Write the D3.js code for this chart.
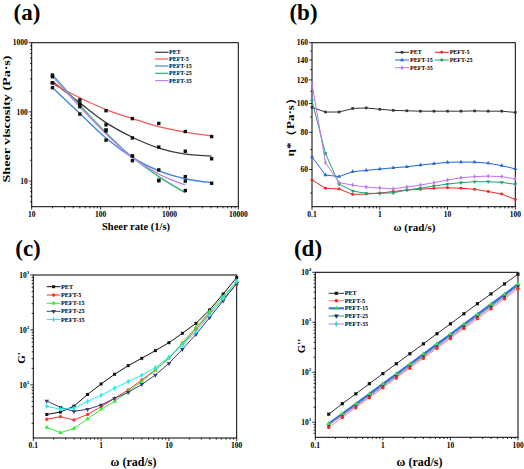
<!DOCTYPE html>
<html><head><meta charset="utf-8">
<script src="https://cdn.jsdelivr.net/npm/d3@7"></script>
<style>
body{margin:0;background:#fff}
svg{display:block}
text{font-family:"Liberation Serif","Times New Roman",serif;font-weight:bold;fill:#000}
</style>
</head><body>
<svg id="c" width="524" height="469"></svg>
<script>
const names = ["PET","PEFT-5","PEFT-15","PEFT-25","PEFT-35"];

// ---------- Panel (a): sheer viscosity vs sheer rate ----------
const shearRate = [20, 50, 120, 290, 700, 1700, 4100];
const aPET    = [264, 126, 65, 42, 31, 27, 21];
const aPEFT5  = [264, 149, 104, 80, 68, 52, 44];
const aPEFT15 = [224, 93, 39, 23, 14.5, 11.6, 9.3];
const aPEFT25 = [341, 133, 55, 19.7, 10.1, 7.3];
const aPEFT35 = [322, 119, 53, 23, 10.3, 10];
// fitted curves
const fitPET    = [275, 135, 70, 43, 30, 24.5, 23];
const fitPEFT5  = [255, 160, 108, 80, 61, 51, 45];
const fitPEFT15 = [225, 95, 42, 22, 14, 10.8, 9.5];
const fitPEFT25 = [345, 125, 50, 22, 11.6, 6.8];
const fitPEFT35 = [330, 118, 48, 22, 12.6, 8.8];
const aXTicks = [10, 100, 1000, 10000];
const aYTicks = [10, 100, 1000];

// ---------- Panel (b): complex viscosity ----------
const omegaB = [0.1, 0.158, 0.251, 0.398, 0.631, 1, 1.58, 2.51, 3.98, 6.31, 10, 15.8, 25.1, 39.8, 63.1, 100];
const bPET    = [97, 93.6, 93.6, 96.2, 96.6, 95.6, 94.8, 94.5, 94.2, 94.2, 94.2, 94.2, 94.4, 94.2, 94.2, 93.3];
const bPEFT5  = [55.3, 51.9, 51.6, 49.5, 49.6, 50.0, 50.6, 51.2, 51.5, 51.9, 52.1, 51.9, 51.5, 50.6, 49.6, 47.6];
const bPEFT15 = [66.2, 57.5, 56.8, 59.0, 59.6, 60.2, 60.8, 61.3, 62.1, 62.8, 63.4, 63.6, 63.5, 63.0, 61.8, 60.3];
const bPEFT25 = [102, 68, 53.6, 50.8, 49.9, 49.9, 50.1, 51.2, 51.9, 52.8, 53.6, 54.2, 54.6, 54.6, 54.3, 53.5];
const bPEFT35 = [116.6, 63.3, 54.2, 53.2, 52.4, 52.0, 51.7, 52.4, 53.2, 54.2, 55.3, 56.3, 56.8, 57.0, 56.8, 55.8];
const bXTicks = [0.1, 1, 10, 100];
const bYTicks = [60, 80, 100, 120, 140, 160];
const bYMinor = [50, 70, 90, 110, 130, 150];

// ---------- Panel (c): G' ----------
const omegaCD = [0.158, 0.251, 0.398, 0.631, 1, 1.58, 2.51, 3.98, 6.31, 10, 15.8, 25.1, 39.8, 63.1, 100];
const cPET    = [2.9, 3.2, 4.1, 6.7, 10.4, 15.6, 22.4, 30.5, 42, 58.6, 87, 132, 231, 451, 900];
const cPEFT5  = [2.37, 2.64, 2.3, 2.9, 4.0, 5.7, 8.1, 12.3, 18.7, 31, 55, 103, 200, 360, 680];
const cPEFT15 = [1.69, 1.35, 1.62, 2.4, 3.6, 5.0, 7.6, 11.5, 18.5, 31, 58, 112, 215, 405, 770];
const cPEFT25 = [5.1, 3.9, 3.3, 3.6, 4.3, 5.7, 7.3, 10.2, 15.1, 24.7, 44.5, 83, 167, 340, 705];
const cPEFT35 = [4.1, 3.6, 3.75, 5.0, 6.5, 8.7, 11.5, 15, 20.6, 32, 53, 93, 187, 376, 760];
const cdXTicks = [0.1, 1, 10, 100];
const cYTicks = [10, 100, 1000];

// ---------- Panel (d): G'' ----------
const dPET    = [14.5, 23.5, 37, 59, 94, 148, 235, 370, 590, 930, 1480, 2350, 3700, 5850, 9200];
const dPEFT5  = [7.9, 12.4, 19.6, 31, 49, 77, 121, 191, 302, 476, 751, 1185, 1870, 2950, 4700];
const dPEFT15 = [9.4, 14.8, 23.4, 37, 58.5, 92.5, 146, 231, 366, 578, 914, 1445, 2285, 3610, 5800];
const dPEFT25 = [8.8, 13.8, 21.8, 34.5, 54.5, 86, 136, 215, 340, 540, 850, 1345, 2130, 3380, 5400];
const dPEFT35 = [9.1, 13.6, 21, 33, 52, 82, 129, 204, 322, 510, 805, 1270, 2010, 3180, 5100];
const dYTicks = [10, 100, 1000, 10000];

// ---------- styles ----------
const colA = ["#3a3a3a", "#f25a55", "#3d86dc", "#2fb56f", "#c481ee"];
const colB = ["#333333", "#ee2626", "#2266dd", "#21a070", "#bb77ee"];
const colC = ["#111111", "#ff3333", "#33ee33", "#3c3c7a", "#22eeee"];
const lineD = ["#333333", "#ff7f7f", "#2f6fe0", "#2e9e7c", "#c07fe0"];
const markD = ["#111111", "#ff2222", "#44dd44", "#24246e", "#22dddd"];
const symTypes = [d3.symbolSquare, d3.symbolCircle, d3.symbolTriangle, d3.symbolTriangle, d3.symbolDiamond];
const symRot = [0, 0, 0, 180, 0];

const svg = d3.select("#c");

function logMinor(lo, hi) {
  const out = [];
  for (let e = Math.floor(Math.log10(lo)) - 1; e <= Math.ceil(Math.log10(hi)); e++) {
    for (let k = 2; k <= 9; k++) {
      const v = k * Math.pow(10, e);
      if (v > lo && v < hi) out.push(v);
    }
  }
  return out;
}

function drawAxes(p) {
  const g = svg.append("g");
  const [x0, x1] = p.x.range();
  const [yb, yt] = p.y.range();
  const tk = g.append("g").attr("stroke", "#000").attr("stroke-width", 0.8);
  p.xMajor.forEach(v => tk.append("line").attr("x1", p.x(v)).attr("x2", p.x(v)).attr("y1", yb).attr("y2", yb + 3));
  p.xMinor.forEach(v => tk.append("line").attr("x1", p.x(v)).attr("x2", p.x(v)).attr("y1", yb).attr("y2", yb + 1.7));
  p.yMajor.forEach(v => tk.append("line").attr("y1", p.y(v)).attr("y2", p.y(v)).attr("x1", x0).attr("x2", x0 - 3));
  p.yMinor.forEach(v => tk.append("line").attr("y1", p.y(v)).attr("y2", p.y(v)).attr("x1", x0).attr("x2", x0 - 1.7));
  g.append("rect").attr("x", x0).attr("y", yt).attr("width", x1 - x0).attr("height", yb - yt)
    .attr("fill", "none").attr("stroke", "#000").attr("stroke-width", 1);
  p.xMajor.forEach(v => g.append("text").attr("x", p.x(v)).attr("y", p.xLabY).attr("text-anchor", "middle")
    .attr("font-size", 7.5).text(String(v)));
  p.yMajor.forEach(v => {
    const t = g.append("text").attr("x", x0 - 4).attr("y", p.y(v)).attr("dy", "0.35em").attr("text-anchor", "end").attr("font-size", 7.5);
    if (p.sup) {
      t.append("tspan").text("10");
      t.append("tspan").attr("dy", -3.5).attr("font-size", 5).text(String(Math.round(Math.log10(v))));
    } else t.text(String(v));
  });
  return g;
}

function marker(g, type, rot, size, fill, cx, cy) {
  g.append("path").attr("d", d3.symbol().type(type).size(size)())
    .attr("transform", `translate(${cx},${cy}) rotate(${rot})`).attr("fill", fill);
}

function label(txt, x, y, size, rotate, len) {
  const t = svg.append("text").attr("text-anchor", "middle").attr("font-size", size)
    .attr("transform", `translate(${x},${y})` + (rotate ? " rotate(-90)" : "")).text(txt);
  if (len) t.attr("textLength", len).attr("lengthAdjust", "spacingAndGlyphs");
  return t;
}

// ================= Panel (a) =================
{
  const x = d3.scaleLog().domain([10, 10000]).range([31.7, 238.3]);
  const y = d3.scaleLog().domain([4.26, 1000]).range([206.7, 42.7]);
  drawAxes({x, y, xMajor: aXTicks, xMinor: logMinor(10, 10000), yMajor: aYTicks, yMinor: logMinor(4.26, 1000),
    xLabY: 217, sup: false});
  const fits = [fitPET, fitPEFT5, fitPEFT15, fitPEFT25, fitPEFT35];
  const pts = [aPET, aPEFT5, aPEFT15, aPEFT25, aPEFT35];
  const g = svg.append("g");
  const line = d3.line().x(d => x(d[0])).y(d => y(d[1])).curve(d3.curveMonotoneX);
  fits.forEach((f, i) => {
    g.append("path").attr("d", line(f.map((v, j) => [shearRate[j], v])))
      .attr("fill", "none").attr("stroke", colA[i]).attr("stroke-width", 1.3);
  });
  pts.forEach(s => s.forEach((v, j) => {
    g.append("rect").attr("x", x(shearRate[j]) - 1.7).attr("y", y(v) - 1.7).attr("width", 3.4).attr("height", 3.4).attr("fill", "#111");
  }));
  const lg = svg.append("g");
  const rows = [52.3, 59, 66, 73.3, 80.6];
  names.forEach((n, i) => {
    lg.append("line").attr("x1", 155).attr("x2", 168.5).attr("y1", rows[i]).attr("y2", rows[i]).attr("stroke", colA[i]).attr("stroke-width", 1.2);
    lg.append("text").attr("x", 169).attr("y", rows[i]).attr("dy", "0.35em").attr("font-size", 6).text(n);
  });
  label("(a)", 27, 19.5, 23);
  label("Sheer viscosity (Pa\u00b7s)", 9.5, 119, 10.5, true, 127);
  label("Sheer rate (1/s)", 136, 230, 10.5);
}

// ================= Panel (b) =================
{
  const x = d3.scaleLog().domain([0.1, 100]).range([312, 515.3]);
  const y = d3.scaleLog().domain([45, 160]).range([206.7, 42.7]);
  drawAxes({x, y, xMajor: bXTicks, xMinor: logMinor(0.1, 100), yMajor: bYTicks, yMinor: bYMinor,
    xLabY: 217, sup: false});
  const series = [bPET, bPEFT5, bPEFT15, bPEFT25, bPEFT35];
  const g = svg.append("g");
  const line = d3.line().x(d => x(d[0])).y(d => y(d[1]));
  series.forEach((s, i) => {
    const data = s.map((v, j) => [omegaB[j], v]);
    g.append("path").attr("d", line(data)).attr("fill", "none").attr("stroke", colB[i]).attr("stroke-width", 1);
    data.forEach(d => marker(g, symTypes[i], symRot[i], 7, colB[i], x(d[0]), y(d[1])));
  });
  const pos = [[395, 52.3], [434.7, 52.3], [395, 60], [434.7, 60], [395, 67.7]];
  names.forEach((n, i) => {
    const [lx, ly] = pos[i];
    g.append("line").attr("x1", lx).attr("x2", lx + 14).attr("y1", ly).attr("y2", ly).attr("stroke", colB[i]).attr("stroke-width", 1);
    marker(g, symTypes[i], symRot[i], 7, colB[i], lx + 7, ly);
    g.append("text").attr("x", lx + 15).attr("y", ly).attr("dy", "0.35em").attr("font-size", 6).text(n);
  });
  label("(b)", 303.5, 19.5, 23);
  label("\u03b7*\uff08Pa\u00b7s\uff09", 293.5, 124, 10.5, true, 65);
  label("\u03c9 (rad/s)", 414.5, 230.5, 11);
}

// ================= Panel (c) =================
{
  const x = d3.scaleLog().domain([0.1, 100]).range([33.3, 236.7]);
  const y = d3.scaleLog().domain([1.08, 1000]).range([438, 275]);
  drawAxes({x, y, xMajor: cdXTicks, xMinor: logMinor(0.1, 100), yMajor: cYTicks, yMinor: logMinor(1.08, 1000),
    xLabY: 448, sup: true});
  const series = [cPET, cPEFT5, cPEFT15, cPEFT25, cPEFT35];
  const g = svg.append("g");
  const line = d3.line().x(d => x(d[0])).y(d => y(d[1]));
  series.forEach((s, i) => {
    const data = s.map((v, j) => [omegaCD[j], v]);
    g.append("path").attr("d", line(data)).attr("fill", "none").attr("stroke", colC[i]).attr("stroke-width", 1);
    data.forEach(d => marker(g, symTypes[i], symRot[i], 9, colC[i], x(d[0]), y(d[1])));
  });
  const rows = [286.7, 295, 303.3, 311.3, 319.5];
  names.forEach((n, i) => {
    g.append("line").attr("x1", 46.7).attr("x2", 60.5).attr("y1", rows[i]).attr("y2", rows[i]).attr("stroke", colC[i]).attr("stroke-width", 1);
    marker(g, symTypes[i], symRot[i], 9, colC[i], 53.6, rows[i]);
    g.append("text").attr("x", 61).attr("y", rows[i]).attr("dy", "0.35em").attr("font-size", 6.2).text(n);
  });
  label("(c)", 28, 255.5, 23);
  label("G'", 24.5, 358, 11, true);
  label("\u03c9 (rad/s)", 133.5, 466, 12);
}

// ================= Panel (d) =================
{
  const x = d3.scaleLog().domain([0.1, 100]).range([315.3, 518]);
  const y = d3.scaleLog().domain([5, 10000]).range([437.3, 272.3]);
  drawAxes({x, y, xMajor: cdXTicks, xMinor: logMinor(0.1, 100), yMajor: dYTicks, yMinor: logMinor(5, 10000),
    xLabY: 448, sup: true});
  const series = [dPET, dPEFT5, dPEFT15, dPEFT25, dPEFT35];
  const widths = [1, 1, 2, 1, 1];
  const g = svg.append("g");
  const line = d3.line().x(d => x(d[0])).y(d => y(d[1]));
  series.forEach((s, i) => {
    const data = s.map((v, j) => [omegaCD[j], v]);
    g.append("path").attr("d", line(data)).attr("fill", "none").attr("stroke", lineD[i]).attr("stroke-width", widths[i]);
  });
  [4, 3, 1, 2, 0].forEach(i => {
    series[i].forEach((v, j) => marker(g, symTypes[i], symRot[i], 10, markD[i], x(omegaCD[j]), y(v)));
  });
  const rows = [293.3, 300.7, 308.3, 316, 324];
  names.forEach((n, i) => {
    g.append("line").attr("x1", 328.7).attr("x2", 344).attr("y1", rows[i]).attr("y2", rows[i]).attr("stroke", lineD[i]).attr("stroke-width", widths[i]);
    marker(g, symTypes[i], symRot[i], 10, markD[i], 336.3, rows[i]);
    g.append("text").attr("x", 344.7).attr("y", rows[i]).attr("dy", "0.35em").attr("font-size", 6.2).text(n);
  });
  label("(d)", 308, 255.5, 23);
  label("G''", 305, 346, 11, true);
  label("\u03c9 (rad/s)", 419.5, 466, 12);
}
</script>
</body></html>
